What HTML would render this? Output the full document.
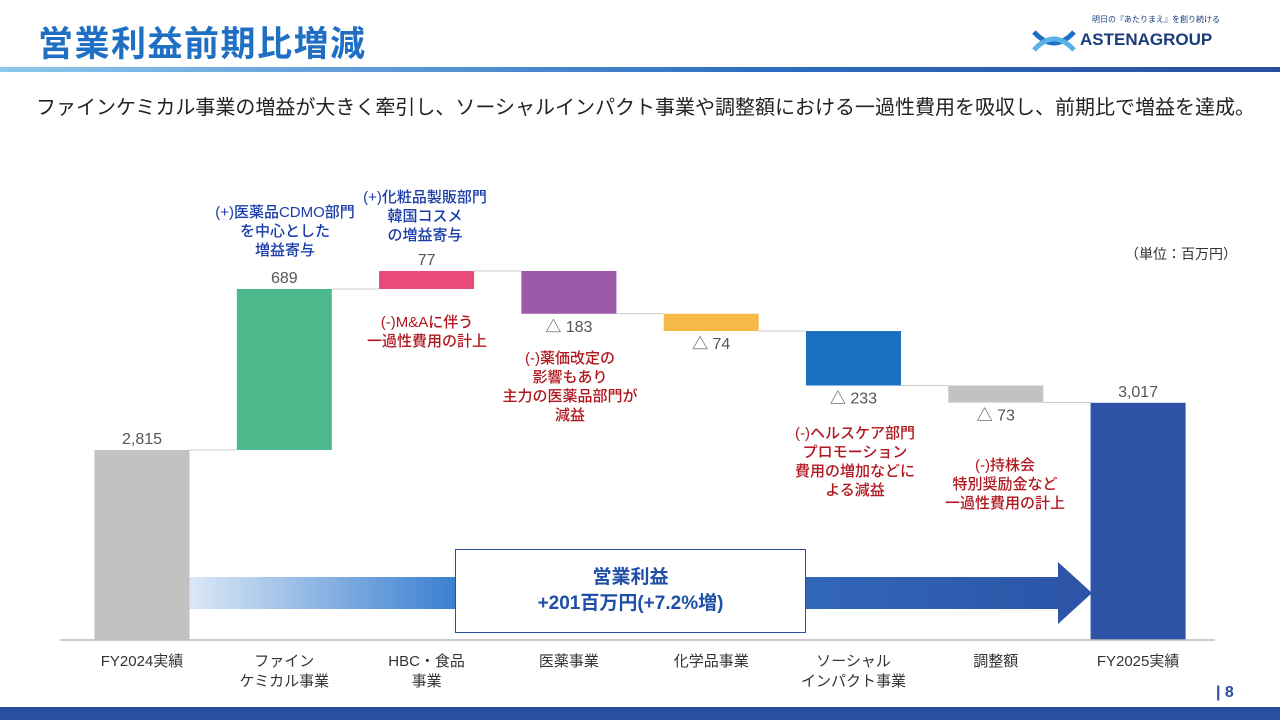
<!DOCTYPE html>
<html><head><meta charset="utf-8">
<style>
body{margin:0;width:1280px;height:720px;overflow:hidden;background:#fff;font-family:"Liberation Sans","Noto Sans CJK JP",sans-serif;position:relative}
.abs{position:absolute}
.t{position:absolute;text-align:center;white-space:nowrap;font-size:15px;line-height:19px;font-weight:500}
</style></head><body>
<div class="abs" style="left:38px;top:16px;font-size:35px;font-weight:bold;color:#1f6fc4;letter-spacing:1.5px">営業利益前期比増減</div>
<div class="abs" style="left:1032px;top:14px;width:220px;height:40px">
 <div style="position:absolute;left:60px;top:0;font-size:8px;color:#1a3c7a">明日の『あたりまえ』を創り続ける</div>
 <svg style="position:absolute;left:0;top:14px" width="45" height="26"><path d="M2 4 Q22 26 42 4" stroke="#1f6fc4" stroke-width="5" fill="none"/><path d="M2 22 Q22 0 42 22" stroke="#5bb0e6" stroke-width="5" fill="none"/></svg>
 <div style="position:absolute;left:48px;top:16px;font-size:17px;font-weight:bold;color:#1a3c7a">ASTENAGROUP</div>
</div>
<div class="abs" style="left:0;top:67px;width:1280px;height:5px;background:linear-gradient(90deg,#8ec8ee,#2c6cc0 60%,#2a4f9e)"></div>
<div class="abs" style="left:36px;top:91px;font-size:20px;color:#222">ファインケミカル事業の増益が大きく牽引し、ソーシャルインパクト事業や調整額における一過性費用を吸収し、前期比で増益を達成。</div>
<div class="abs" style="left:1125px;top:244px;font-size:14px;color:#333">（単位：百万円）</div>

<svg class="abs" style="left:0;top:0" width="1280" height="720" id="chart">
 <defs>
  <linearGradient id="ag" x1="0" x2="1"><stop offset="0" stop-color="#3a7fcf" stop-opacity="0"/><stop offset="0.35" stop-color="#3a7fcf"/><stop offset="1" stop-color="#2c55a8"/></linearGradient>
 </defs>
 <g id="arrow">
  <rect x="130" y="577" width="932" height="32" fill="url(#ag)"/>
  <polygon points="1058,562 1092,593 1058,624" fill="#2c55a8"/>
 </g>
 <g id="bars"></g>
 <line x1="60" y1="640" x2="1215" y2="640" stroke="#bbb" stroke-width="1.5"/>
</svg>
<div class="abs" style="left:455px;top:549px;width:351px;height:84px;border:1.5px solid #2a4f9e;background:#fff;color:#1f4fa8;font-weight:bold;font-size:19px;text-align:center;line-height:26px;box-sizing:border-box;padding-top:15px">営業利益<br>+201百万円(+7.2%増)</div>

<div class="t" style="left:190px;top:203px;width:190px;color:#1a3ca8">(+)医薬品CDMO部門<br>を中心とした<br>増益寄与</div>
<div class="t" style="left:330px;top:188px;width:190px;color:#1a3ca8">(+)化粧品製販部門<br>韓国コスメ<br>の増益寄与</div>
<div class="t" style="left:332px;top:313px;width:190px;color:#b0171f">(-)M&amp;Aに伴う<br>一過性費用の計上</div>
<div class="t" style="left:480px;top:349px;width:180px;color:#b0171f">(-)薬価改定の<br>影響もあり<br>主力の医薬品部門が<br>減益</div>
<div class="t" style="left:765px;top:424px;width:180px;color:#b0171f">(-)ヘルスケア部門<br>プロモーション<br>費用の増加などに<br>よる減益</div>
<div class="t" style="left:915px;top:456px;width:180px;color:#b0171f">(-)持株会<br>特別奨励金など<br>一過性費用の計上</div>

<div class="abs" style="left:1216px;top:684px;font-size:16px;color:#2a4f9e;font-weight:bold">| 8</div>
<div class="abs" style="left:0;top:707px;width:1280px;height:13px;background:#2a4f9e"></div>

<script>
const categories=["FY2024実績","ファイン\nケミカル事業","HBC・食品\n事業","医薬事業","化学品事業","ソーシャル\nインパクト事業","調整額","FY2025実績"];
const deltas=[2815,689,77,-183,-74,-233,-73,3017];
const labels=["2,815","689","77","△ 183","△ 74","△ 233","△ 73","3,017"];
const colors=["#c2c2c2","#4db88c","#e84a7a","#9b59a8","#f5b94a","#1a6fc0","#c2c2c2","#2e52a6"];
const base=2002,py=640,k=0.2337,x0=142,step=142.3,bw=95;
const y=v=>py-(v-base)*k;
const ns="http://www.w3.org/2000/svg",g=document.getElementById("bars");
let run=0;
for(let i=0;i<deltas.length;i++){
 let lo,hi,end;
 if(i===0||i===deltas.length-1){lo=base;hi=deltas[i];end=deltas[i];}
 else{end=run+deltas[i];lo=Math.min(run,end);hi=Math.max(run,end);}
 const cx=x0+i*step;
 if(i>0){const c=document.createElementNS(ns,"line");
  
  
  c.setAttribute("x1",cx-step+bw/2);c.setAttribute("x2",cx-bw/2);c.setAttribute("y1",y(run));c.setAttribute("y2",y(run));c.setAttribute("stroke","#ccc");g.appendChild(c);}
 const r=document.createElementNS(ns,"rect");
 
 
 r.setAttribute("x",cx-bw/2);r.setAttribute("width",bw);r.setAttribute("y",y(hi));r.setAttribute("height",y(lo)-y(hi));r.setAttribute("fill",colors[i]);g.appendChild(r);
 const t=document.createElementNS(ns,"text");
 
 
 t.setAttribute("x",cx);t.setAttribute("text-anchor","middle");t.setAttribute("font-size","16");t.setAttribute("fill","#555");
 t.setAttribute("y",deltas[i]<0&&i>0&&i<deltas.length-1?y(lo)+18:y(hi)-6);
 t.textContent=labels[i];g.appendChild(t);
 const parts=categories[i].split("\n");
 parts.forEach((p,j)=>{const c=document.createElementNS(ns,"text");
  
  
  c.setAttribute("x",cx);c.setAttribute("y",666+j*20);c.setAttribute("text-anchor","middle");c.setAttribute("font-size","15");c.setAttribute("fill","#333");c.textContent=p;g.appendChild(c);});
 run=end;
}
</script>
</body></html>
